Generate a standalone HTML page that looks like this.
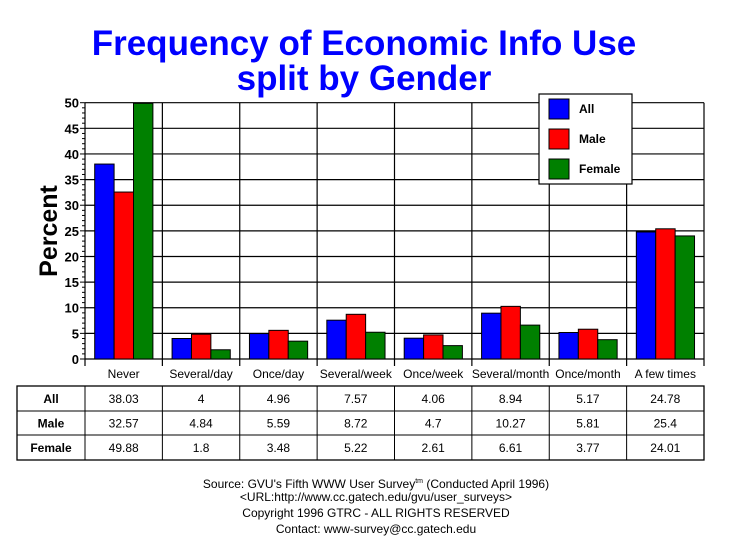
<!DOCTYPE html>
<html><head><style>
body{margin:0;background:#fff;}
svg text{font-family:"Liberation Sans",Arial,sans-serif;}
</style></head><body>
<svg width="729" height="553" xmlns="http://www.w3.org/2000/svg">
<rect width="729" height="553" fill="#fff"/>
<text x="364" y="55" text-anchor="middle" font-size="35" font-weight="bold" fill="#0000ff">Frequency of Economic Info Use</text>
<text x="364" y="90" text-anchor="middle" font-size="35" font-weight="bold" fill="#0000ff">split by Gender</text>
<text transform="translate(57,231) rotate(-90)" text-anchor="middle" font-size="25" font-weight="bold" fill="#000">Percent</text>
<text x="376" y="488" text-anchor="middle" font-size="12">Source: GVU's Fifth WWW User Survey<tspan font-size="7" dy="-5">tm</tspan><tspan dy="5">  (Conducted April 1996)</tspan></text>
<text x="376" y="501" text-anchor="middle" font-size="12">&lt;URL:http://www.cc.gatech.edu/gvu/user_surveys&gt;</text>
<text x="376" y="517" text-anchor="middle" font-size="12">Copyright 1996 GTRC -  ALL RIGHTS RESERVED</text>
<text x="376" y="533" text-anchor="middle" font-size="12">Contact: www-survey@cc.gatech.edu</text>
</svg>
<script>
var svg=document.querySelector('svg'),ns="http://www.w3.org/2000/svg";
function el(t,a,txt){var e=document.createElementNS(ns,t);for(var k in a)e.setAttribute(k,a[k]);if(txt!=null)e.textContent=txt;svg.appendChild(e);return e;}
var L=85,R=704,T=102.7,B=359,cw=(R-L)/8,s=(B-T)/50;
var cats=["Never","Several/day","Once/day","Several/week","Once/week","Several/month","Once/month","A few times"];
var d=[[38.03,4,4.96,7.57,4.06,8.94,5.17,24.78],[32.57,4.84,5.59,8.72,4.7,10.27,5.81,25.4],[49.88,1.8,3.48,5.22,2.61,6.61,3.77,24.01]];
var col=["#0000ff","#ff0000","#008000"],names=["All","Male","Female"];
for(var v=0;v<=50;v+=5){var y=B-v*s;el('line',{x1:L,x2:R,y1:y,y2:y,stroke:'#000','stroke-width':1.2});el('text',{x:L-6,y:y+5,'text-anchor':'end','font-size':13,'font-weight':'bold'},v);}
for(var v=0;v<=50;v++){var y=B-v*s;el('line',{x1:L-(v%5?3:5),x2:L,y1:y,y2:y,stroke:'#000','stroke-width':1});}
for(var i=0;i<=8;i++){var x=L+i*cw;el('line',{x1:x,x2:x,y1:T,y2:B+7,stroke:'#000','stroke-width':1.2});}
for(var i=0;i<8;i++){var x0=L+i*cw+9.7;
 for(var j=0;j<3;j++){var h=d[j][i]*s;el('rect',{x:x0+j*19.4,y:B-h,width:19.4,height:h,fill:col[j],stroke:'#000','stroke-width':1});}
 el('text',{x:L+i*cw+cw/2,y:378,'text-anchor':'middle','font-size':12},cats[i]);
 for(var j=0;j<3;j++)el('text',{x:L+i*cw+cw/2,y:403+j*24.5,'text-anchor':'middle','font-size':12},String(d[j][i]));
}
el('rect',{x:17,y:386,width:R-17,height:74,fill:'none',stroke:'#000','stroke-width':1.3});
[411,435].forEach(function(y){el('line',{x1:17,x2:R,y1:y,y2:y,stroke:'#000','stroke-width':1});});
for(var i=0;i<8;i++){var x=L+i*cw;el('line',{x1:x,x2:x,y1:386,y2:460,stroke:'#000','stroke-width':1});}
for(var j=0;j<3;j++)el('text',{x:51,y:403+j*24.5,'text-anchor':'middle','font-size':12,'font-weight':'bold'},names[j]);
el('rect',{x:539,y:94,width:93,height:90,fill:'#fff',stroke:'#000','stroke-width':1.2});
for(var j=0;j<3;j++){el('rect',{x:549,y:99+j*30,width:20,height:20,fill:col[j],stroke:'#000','stroke-width':1});el('text',{x:579,y:113+j*30,'font-size':12,'font-weight':'bold'},names[j]);}
</script>
</body></html>
